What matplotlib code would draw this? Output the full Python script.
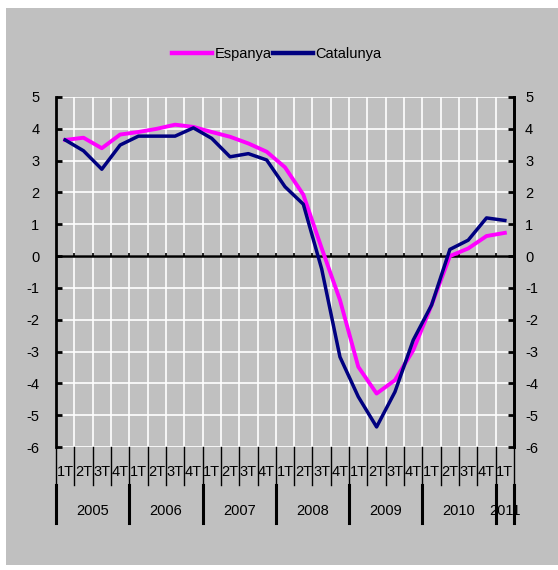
import matplotlib.pyplot as plt
import numpy as np
from matplotlib.lines import Line2D
from matplotlib.patches import Rectangle
from matplotlib.transforms import blended_transform_factory

plt.rcParams["font.family"] = ["Liberation Sans", "DejaVu Sans"]
plt.rcParams["axes.unicode_minus"] = False

# --- data: quarterly values, 2005 1T .. 2011 1T ---
quarters = ["1T", "2T", "3T", "4T"] * 6 + ["1T"]
years = ["2005", "2006", "2007", "2008", "2009", "2010", "2011"]
year_len = [4, 4, 4, 4, 4, 4, 1]
espanya = [3.65, 3.72, 3.39, 3.82, 3.90, 4.00, 4.13, 4.06, 3.90, 3.75, 3.54, 3.28,
           2.79, 1.93, 0.25, -1.38, -3.48, -4.32, -3.90, -2.96, -1.54, 0.00, 0.24,
           0.63, 0.73]
catalunya = [3.65, 3.31, 2.73, 3.49, 3.77, 3.77, 3.77, 4.03, 3.70, 3.12, 3.22, 3.02,
             2.18, 1.63, -0.40, -3.17, -4.42, -5.37, -4.27, -2.64, -1.54, 0.21, 0.50,
             1.20, 1.12]

GRAY = "#C0C0C0"
W, H = 558, 570

fig = plt.figure(figsize=(W / 100, H / 100), dpi=100)
fig.patch.set_facecolor("white")
fig.patches.append(Rectangle((6 / W, 5 / H), 1 - 6 / W, 1 - 13 / H,
                             transform=fig.transFigure, facecolor=GRAY,
                             edgecolor="none", zorder=-10))

ax = fig.add_axes([56 / W, 1 - 447 / H, (514 - 56) / W, (447 - 97) / H])
ax.set_facecolor(GRAY)
ax.set_zorder(1)

n = len(espanya)
x = np.arange(n)
ax.plot(x, espanya, color="#FF00FF", lw=2.8, zorder=3, label="Espanya")
ax.plot(x, catalunya, color="#000080", lw=2.5, zorder=4, label="Catalunya")

ax.set_xlim(-0.5, n - 0.5)
ax.set_ylim(-6, 5)

# grid
bounds = np.arange(n + 1) - 0.5
ax.set_xticks(bounds[1:-1], minor=True)
ax.set_xticks([])
ax.grid(True, which="minor", axis="x", color="white", lw=1.2, zorder=1)
ax.set_yticks(range(-6, 6))
ax.grid(True, which="major", axis="y", color="white", lw=1.2, zorder=1)
ax.tick_params(axis="x", which="both", length=0, labelbottom=False)
ax.tick_params(axis="y", direction="in", length=4, width=2, labelsize=10.5,
               pad=12, left=True, right=False)
ax.set_axisbelow(True)

# zero line with small tick marks
ax.axhline(0, color="black", lw=1.8, zorder=2)
ax.vlines(bounds[1:-1], 0, 0.1, color="black", lw=1.2, zorder=2)

for s in ["top", "bottom"]:
    ax.spines[s].set_visible(False)
for s in ["left", "right"]:
    ax.spines[s].set_linewidth(2)

ax2 = ax.twinx()
ax2.set_zorder(2)
ax2.patch.set_visible(False)
ax2.set_ylim(-6, 5)
ax2.set_yticks(range(-6, 6))
ax2.tick_params(axis="y", direction="in", length=4, width=2, labelsize=10.5, pad=8)
for s in ["top", "bottom", "left"]:
    ax2.spines[s].set_visible(False)
ax2.spines["right"].set_linewidth(2)

# two-level category axis
tr = blended_transform_factory(ax.transData, ax.transAxes)
q_bot = -(485 - 447) / 350
y_bot = -(523 - 447) / 350
for i, q in enumerate(quarters):
    ax.text(i, -(472 - 447) / 350, q, transform=tr, ha="center", va="center",
            fontsize=10.5, clip_on=False, zorder=1)
year_edges = np.concatenate([[0], np.cumsum(year_len)]) - 0.5
for b in bounds:
    ax.plot([b, b], [0, q_bot], transform=tr, color="black", lw=1,
            clip_on=False, zorder=5)
for b in year_edges:
    ax.plot([b, b], [q_bot, y_bot], transform=tr, color="black", lw=2.2,
            clip_on=False, zorder=5)
for k, yr in enumerate(years):
    cx = (year_edges[k] + year_edges[k + 1]) / 2
    ax.text(cx, -(511 - 447) / 350, yr, transform=tr, ha="center", va="center",
            fontsize=10.5, clip_on=False, zorder=1)

handles = [Line2D([0], [0], color="#FF00FF", lw=3.2),
           Line2D([0], [0], color="#000080", lw=3.2)]
fig.legend(handles, ["Espanya", "Catalunya"], loc="center",
           bbox_to_anchor=(277 / W, 1 - 54 / H), ncol=2, frameon=False,
           fontsize=10.5, handlelength=2.7, handletextpad=0.2,
           columnspacing=0.1)

fig.savefig("out.png", dpi=100, facecolor="white")
